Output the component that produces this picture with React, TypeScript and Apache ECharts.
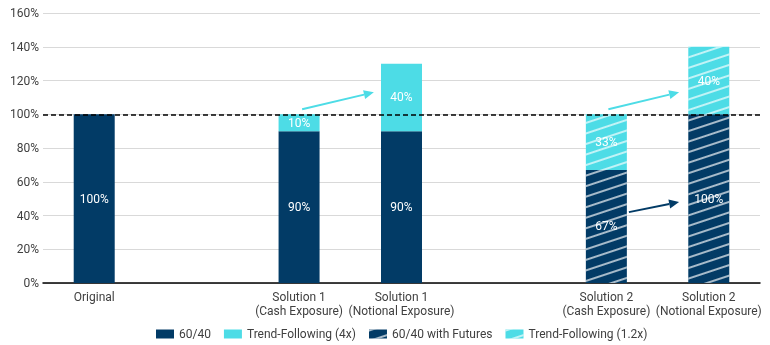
import React, { useEffect, useRef } from "react";
import * as echarts from "echarts";

const categories = [
  "Original",
  "",
  "Solution 1\n(Cash Exposure)",
  "Solution 1\n(Notional Exposure)",
  "",
  "Solution 2\n(Cash Exposure)",
  "Solution 2\n(Notional Exposure)",
];
const s6040 = [100, null, 90, 90, null, null, null];
const trend4x = [null, null, 10, 40, null, null, null];
const s6040Fut = [null, null, null, null, null, 67, 100];
const trend12x = [null, null, null, null, null, 33, 40];
const yTicks = [0, 20, 40, 60, 80, 100, 120, 140, 160];
const refLevel = 100;
// arrows: [fromCategory, fromValue, toCategory, toValue]
const arrowFrom = [[2, 103], [5, 103], [5, 42]];
const arrowTo = [[3, 113], [6, 113], [6, 48]];
// horizontal shift of arrow ends, as a fraction of the category band
const arrowShift = [[0.03, -0.27], [0.02, -0.29], [0.22, -0.29]];

const NAVY = "#023B66";
const CYAN = "#4DDCE6";
const FONT = "Roboto";

const hatch = {
  symbol: "rect",
  symbolSize: 1,
  dashArrayX: [1, 0],
  dashArrayY: [1.2, 7.5],
  rotation: -0.32,
  color: "rgba(255,255,255,0.65)",
};

export default function App() {
  const ref = useRef<HTMLDivElement>(null);
  useEffect(() => {
    const chart = echarts.init(ref.current!, null, { renderer: "svg" });
    const label = {
      show: true,
      position: "inside",
      color: "#fff",
      fontSize: 12,
      fontFamily: FONT,
      formatter: (p: any) => (p.value == null ? "" : p.value + "%"),
    };
    const arrowData = arrowFrom.map((f, i) => [
      f[0], f[1], arrowTo[i][0], arrowTo[i][1], arrowShift[i][0], arrowShift[i][1], i,
    ]);
    const arrowColors = [CYAN, CYAN, NAVY];
    chart.setOption({
      animation: false,
      textStyle: { fontFamily: FONT },
      grid: { left: 43, right: 10, top: 13, bottom: 62 },
      legend: {
        data: ["60/40", "Trend-Following (4x)", "60/40 with Futures", "Trend-Following (1.2x)"],
        top: 323,
        left: 151,
        itemWidth: 18,
        itemHeight: 9,
        itemGap: 13,
        icon: "rect",
        textStyle: { color: "#404040", fontSize: 12, fontFamily: FONT },
      },
      xAxis: {
        type: "category",
        data: categories,
        axisLine: { lineStyle: { color: "#000", width: 1.5 } },
        axisTick: { show: false },
        axisLabel: { color: "#404040", fontSize: 12, lineHeight: 14, margin: 7, interval: 0, fontFamily: FONT },
      },
      yAxis: {
        type: "value",
        min: yTicks[0],
        max: yTicks[yTicks.length - 1],
        interval: 20,
        axisLine: { show: false },
        axisTick: { show: false },
        splitLine: { lineStyle: { color: "#d9d9d9", width: 1 } },
        axisLabel: { color: "#404040", fontSize: 12, formatter: "{value}%", margin: 4, fontFamily: FONT },
      },
      series: [
        { name: "60/40", type: "bar", stack: "a", barWidth: 41, data: s6040, itemStyle: { color: NAVY }, label },
        { name: "Trend-Following (4x)", type: "bar", stack: "a", barWidth: 41, data: trend4x, itemStyle: { color: CYAN }, label },
        { name: "60/40 with Futures", type: "bar", stack: "a", barWidth: 41, data: s6040Fut, itemStyle: { color: NAVY, decal: hatch }, label },
        {
          name: "Trend-Following (1.2x)", type: "bar", stack: "a", barWidth: 41, data: trend12x,
          itemStyle: { color: CYAN, decal: hatch }, label,
          markLine: {
            silent: true,
            symbol: "none",
            label: { show: false },
            lineStyle: { color: "#000", type: [5, 3], width: 1.5 },
            data: [{ yAxis: refLevel }],
            z: 10,
          },
        },
        {
          type: "custom",
          silent: true,
          z: 5,
          data: arrowData,
          renderItem: (params: any, api: any) => {
            const p1 = api.coord([api.value(0), api.value(1)]);
            const p2 = api.coord([api.value(2), api.value(3)]);
            const bw = api.size([1, 0])[0];
            const x1 = p1[0] + api.value(4) * bw;
            const y1 = p1[1];
            const x2 = p2[0] + api.value(5) * bw;
            const y2 = p2[1];
            const ang = Math.atan2(y2 - y1, x2 - x1);
            const hl = 10, hw = 4.5;
            const bx = x2 - hl * Math.cos(ang);
            const by = y2 - hl * Math.sin(ang);
            const nx = -Math.sin(ang), ny = Math.cos(ang);
            const color = arrowColors[api.value(6)];
            return {
              type: "group",
              children: [
                { type: "line", shape: { x1, y1, x2: bx, y2: by }, style: { stroke: color, lineWidth: 2 } },
                {
                  type: "polygon",
                  shape: { points: [[x2, y2], [bx + nx * hw, by + ny * hw], [bx - nx * hw, by - ny * hw]] },
                  style: { fill: color },
                },
              ],
            };
          },
        },
      ],
    });
    return () => chart.dispose();
  }, []);
  return <div ref={ref} style={{ position: "fixed", left: 0, top: 0, width: 770, height: 345 }} />;
}
